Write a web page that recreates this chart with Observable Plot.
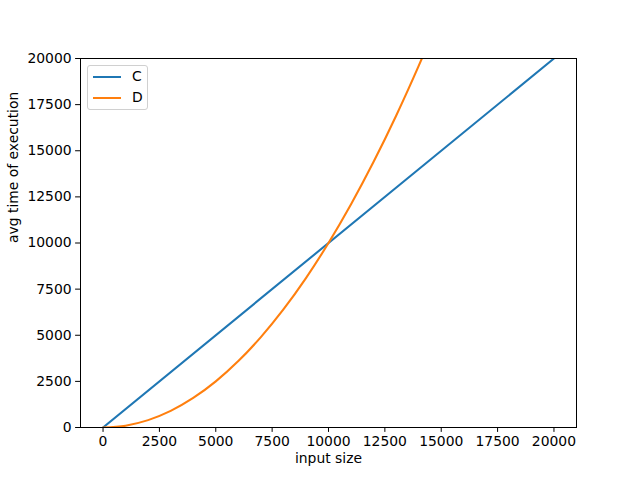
<!DOCTYPE html>
<html>
<head>
<meta charset="utf-8">
<script src="https://cdn.jsdelivr.net/npm/d3@7"></script>
<script src="https://cdn.jsdelivr.net/npm/@observablehq/plot@0.6"></script>
<style>
  body { margin: 0; background: white; }
  #wrap { position: relative; width: 640px; height: 480px; font-family: "DejaVu Sans", sans-serif; }
  #legend { position: absolute; left: 87px; top: 65px; width: 59px; height: 43px;
    border: 1px solid #d0d0d0; border-radius: 3px; background: rgba(255,255,255,0.8);
    font-size: 13.9px; }
  .row { position: absolute; left: 5px; height: 16px; }
  .sw { position: absolute; left: 0; top: 7px; width: 28px; height: 2px; }
  .lb { position: absolute; left: 39px; top: -1px; }
</style>
</head>
<body>
<div id="wrap"></div>
<script>
const seriesNames = ["C", "D"];
const seriesColors = ["#1f77b4", "#ff7f0e"];
const cX = [0, 20000];
const cY = [0, 20000];
const dX = [0, 1000, 2000, 3000, 4000, 5000, 6000, 7000, 8000, 9000, 10000, 11000, 12000, 13000, 14000, 15000];
const dY = [0, 100, 400, 900, 1600, 2500, 3600, 4900, 6400, 8100, 10000, 12100, 14400, 16900, 19600, 22500];
const xTicks = [0, 2500, 5000, 7500, 10000, 12500, 15000, 17500, 20000];
const yTicks = [0, 2500, 5000, 7500, 10000, 12500, 15000, 17500, 20000];
const xLabel = "input size";
const yLabel = "avg time of execution";

const cData = cX.map((x, i) => ({x, y: cY[i]}));
const dData = dX.map((x, i) => ({x, y: dY[i]}));

const chart = Plot.plot({
  width: 640, height: 480,
  marginLeft: 80, marginRight: 64, marginTop: 58, marginBottom: 53,
  style: {fontFamily: "DejaVu Sans", fontSize: "13.9px", color: "black", background: "white"},
  x: {domain: [-1000, 21000]},
  y: {domain: [0, 20000]},
  marks: [
    Plot.line(cData, {x: "x", y: "y", stroke: seriesColors[0], strokeWidth: 2.08, clip: true}),
    Plot.line(dData, {x: "x", y: "y", stroke: seriesColors[1], strokeWidth: 2.08, curve: "catmull-rom", clip: true}),
    Plot.frame({stroke: "black", strokeWidth: 1}),
    Plot.axisX({ticks: xTicks, tickSize: 4.9, tickPadding: 4, label: null, tickFormat: d => String(d), fontSize: 13.9}),
    Plot.axisY({ticks: yTicks, tickSize: 4.9, tickPadding: 4, label: null, tickFormat: d => String(d), fontSize: 13.9}),
    Plot.text([xLabel], {frameAnchor: "bottom", dy: 35, fontSize: 13.9, fill: "black"}),
    Plot.text([yLabel], {frameAnchor: "left", dx: -67, rotate: -90, fontSize: 13.9, fill: "black"})
  ]
});
const wrap = document.getElementById("wrap");
wrap.appendChild(chart);

const legend = document.createElement("div");
legend.id = "legend";
seriesNames.forEach((n, i) => {
  const row = document.createElement("div");
  row.className = "row";
  row.style.top = (3 + i * 21) + "px";
  row.innerHTML = `<div class="sw" style="background:${seriesColors[i]}"></div><div class="lb">${n}</div>`;
  legend.appendChild(row);
});
wrap.appendChild(legend);
</script>
</body>
</html>
